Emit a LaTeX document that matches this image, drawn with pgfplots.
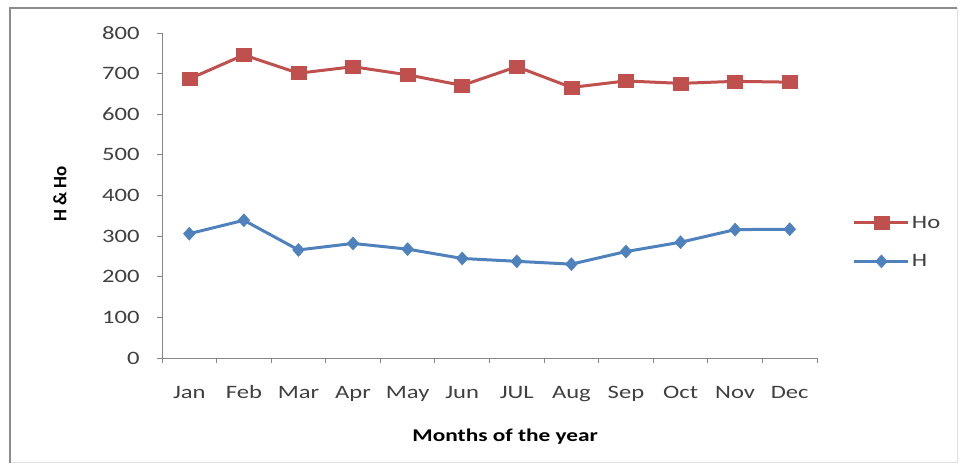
\documentclass[border=0pt]{standalone}
\usepackage{fontspec}
\setmainfont{Carlito}[FakeStretch=1.3]
\newfontfamily\ylabfont{Carlito}
\usepackage{pgfplots}
\pgfplotsset{compat=1.18}
\definecolor{hoRed}{HTML}{C0504D}
\definecolor{hBlue}{HTML}{4F81BD}
\definecolor{axGray}{HTML}{868686}
\definecolor{txtGray}{HTML}{404040}
\begin{document}
\begin{tikzpicture}
\useasboundingbox (0,0) rectangle (961bp,468bp);
\draw[black!12, line width=1bp] (957bp,460bp) -- (957bp,5bp) -- (10bp,5bp);
\draw[black!45, line width=2bp] (10bp,5bp) -- (10bp,460bp) -- (957bp,460bp);
\begin{axis}[
  at={(162bp,110bp)}, anchor=south west, scale only axis,
  width=655bp, height=325bp,
  xmin=-0.5, xmax=11.5, ymin=0, ymax=800,
  axis x line*=bottom, axis y line*=left,
  axis line style={axGray, line width=1bp, -},
  xtick={0,...,11},
  xticklabels={Jan,Feb,Mar,Apr,May,Jun,JUL,Aug,Sep,Oct,Nov,Dec},
  major x tick style={draw=none},
  minor xtick={-0.5,0.5,...,11.5},
  ytick={0,100,...,800},
  tick align=outside, major tick length=5bp, minor tick length=5bp,
  tick style={axGray, line width=1bp},
  every tick/.append style={axGray},
  tick label style={font=\fontsize{19}{21}\selectfont, text=txtGray},
  /pgf/number format/assume math mode=true,
  yticklabel style={xshift=-14bp},
  xticklabel style={yshift=-19bp, text height=12.5bp, text depth=3bp},
  xlabel={\bfseries Months of the year},
  xlabel style={font=\fontsize{18}{20}\selectfont, at={(axis description cs:0.524,-0.243)}, anchor=center},
  ylabel={\ylabfont\bfseries H \& Ho},
  ylabel style={font=\fontsize{19}{20}\selectfont, at={(axis description cs:-0.156,0.505)}, anchor=center},
  legend style={at={(axis description cs:1.05,0.45)}, anchor=north west, draw=none, fill=none,
    font=\fontsize{19}{21}\selectfont, text=txtGray, row sep=21bp},
  legend cell align=left,
  legend image code/.code={\draw[mark repeat=2,mark phase=2,#1] plot coordinates {(0bp,0bp) (27bp,0bp) (54bp,0bp)};},
]
\addplot[hoRed, line width=3bp, mark=square*, mark size=6.5bp, mark options={solid, xscale=1.15, line width=0.5bp}]
coordinates {(0,687) (1,746) (2,701) (3,717) (4,697) (5,671) (6,717) (7,666) (8,682) (9,676) (10,681) (11,679)};
\addlegendentry{Ho}
\addplot[hBlue, line width=3bp, mark=diamond*, mark size=6.5bp, mark options={solid, xscale=1.2, line width=0.5bp}]
coordinates {(0,306) (1,339) (2,266) (3,282) (4,268) (5,245) (6,238) (7,231) (8,262) (9,285) (10,316) (11,317)};
\addlegendentry{H}
\end{axis}
\end{tikzpicture}
\end{document}
